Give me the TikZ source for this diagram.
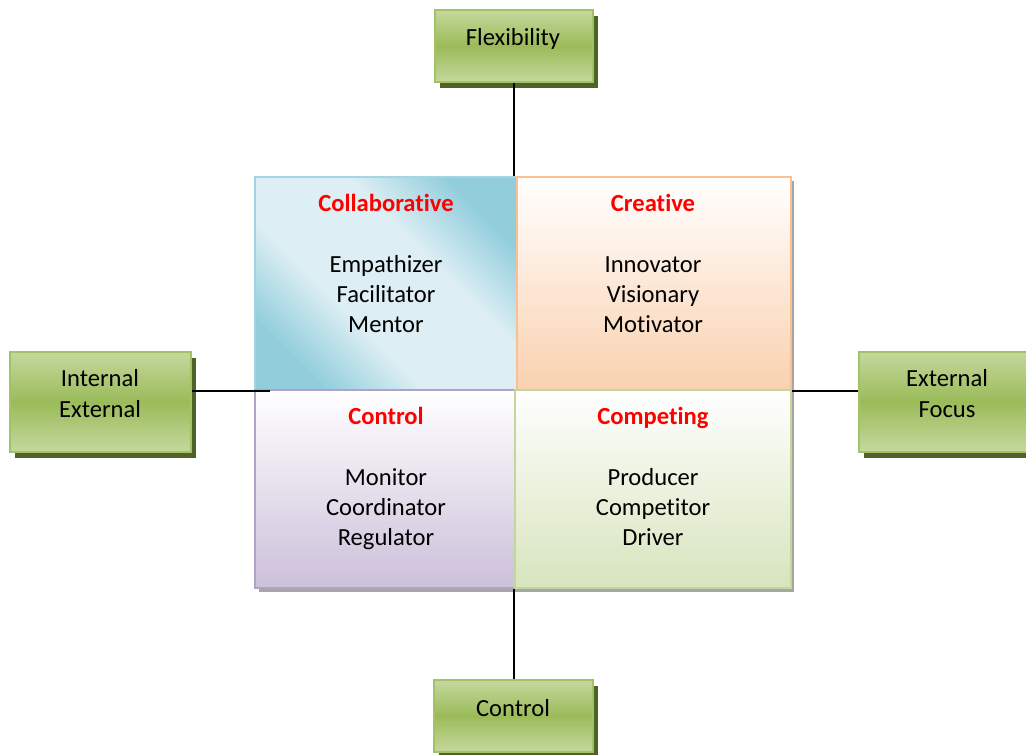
\documentclass[tikz,border=0pt]{standalone}
\usepackage{fontspec}
\setmainfont[Ligatures=NoCommon]{Carlito}
\usetikzlibrary{shadows,calc}
\definecolor{gLight}{HTML}{C5D89E}
\definecolor{gMid}{HTML}{9BBB59}
\definecolor{gBorder}{HTML}{A3C266}
\definecolor{gShadow}{HTML}{4F6228}
\definecolor{bDark}{HTML}{92CDDC}
\definecolor{bLight}{HTML}{DDEFF4}
\definecolor{bBorder}{HTML}{A5D5E2}
\definecolor{oBot}{HTML}{FAD1AF}
\definecolor{oBorder}{HTML}{FAC090}
\definecolor{pBot}{HTML}{CCC0DA}
\definecolor{pBorder}{HTML}{B3A2C7}
\definecolor{lBot}{HTML}{D7E4BD}
\definecolor{lBorder}{HTML}{C3D69B}
\definecolor{titleRed}{HTML}{FF0000}
\definecolor{qShadow}{HTML}{A6A6A6}
\pgfdeclareverticalshading{collabshade}{100bp}{color(0bp)=(bDark); color(25bp)=(bDark); color(40bp)=(bLight); color(60bp)=(bLight); color(75bp)=(bDark); color(100bp)=(bDark)}
\begin{document}
\begin{tikzpicture}[x=0.5pt,y=-0.5pt,
  every node/.style={font=\fontsize{12.3}{15}\selectfont},
  axisbox/.style={draw=gBorder, line width=1pt, inner sep=0pt,
    top color=gLight, bottom color=gLight, middle color=gMid,
    drop shadow={shadow xshift=2.5pt, shadow yshift=-3pt, fill=gShadow, opacity=1}},
  quad/.style={line width=1pt, inner sep=0pt},
  lbl/.style={align=center, inner sep=0pt, text=black},
  axisline/.style={line width=1pt, black}]
\useasboundingbox (0,0) rectangle (1026,754);
% quadrant shadow
\fill[qShadow] (259,181) rectangle (794,592);
% quadrants
\node[quad, draw=bBorder, shade, shading=collabshade, shading angle=-45,
  minimum width=131pt, minimum height=106.5pt] (collab) at (386,283.5) {};
\node[quad, draw=oBorder, top color=white, bottom color=oBot,
  minimum width=137pt, minimum height=106.5pt] (creative) at (654,283.5) {};
\node[quad, draw=pBorder, top color=white, bottom color=pBot,
  minimum width=130pt, minimum height=99pt] (controlq) at (385,489) {};
\node[quad, draw=lBorder, top color=white, bottom color=lBot,
  minimum width=138pt, minimum height=99pt] (competing) at (653,489) {};
% quadrant texts
\node[lbl] (collabtxt) at (386,265.5) {\strut{\bfseries\color{titleRed}Collaborative}\\[15.5pt]Empathizer\\Facilitator\\Mentor\strut};
\node[lbl] (creativetxt) at (653,265.5) {\strut{\bfseries\color{titleRed}Creative}\\[15.5pt]Innovator\\Visionary\\Motivator\strut};
\node[lbl] (controltxt) at (386,479) {\strut{\bfseries\color{titleRed}Control}\\[15.5pt]Monitor\\Coordinator\\Regulator\strut};
\node[lbl] (competingtxt) at (653,479) {\strut{\bfseries\color{titleRed}Competing}\\[15.5pt]Producer\\Competitor\\Driver\strut};
% axis boxes
\node[axisbox, minimum width=79pt, minimum height=36pt] (flex) at (514,46) {};
\node[axisbox, minimum width=90.5pt, minimum height=50pt] (inex) at (100.5,402) {};
\node[axisbox, minimum width=88pt, minimum height=50pt] (exfo) at (947,401.5) {};
\node[axisbox, minimum width=79.5pt, minimum height=36pt] (ctrl) at (513.5,716) {};
\node[lbl] (flextxt) at (513,40) {\strut Flexibility};
\node[lbl, font=\fontsize{12.3}{15.5}\selectfont] (inextxt) at (100,395.5) {\strut Internal\\External\strut};
\node[lbl, font=\fontsize{12.3}{15.5}\selectfont] (exfotxt) at (947,395.5) {\strut External\\Focus\strut};
\node[lbl] (ctrltxt) at (513,710) {\strut Control};
% connectors
\draw[axisline] (flex.south) -- (flex.south |- collab.north);
\draw[axisline] (ctrl.north) -- (ctrl.north |- controlq.south);
\draw[axisline] (inex.east |- collab.south) -- ($(collab.south west)+(16,0)$);
\draw[axisline] (creative.south east) -- (creative.south east -| exfo.west);
\end{tikzpicture}
\end{document}
